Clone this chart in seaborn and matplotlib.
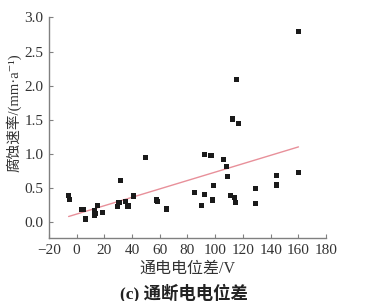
import matplotlib
matplotlib.use("Agg")
import matplotlib.pyplot as plt
import seaborn as sns
import pandas as pd

# data
potential_diff = [-5.8, -5.1, 3.6, 4.8, 6.5, 12.7, 13.4, 12.7, 14.9, 18.5,
                  29.6, 30.5, 31.7, 35.1, 37.0, 40.8, 49.8, 57.7, 58.6, 64.6,
                  85.3, 90.2, 92.5, 92.3, 96.9, 97.8, 98.8, 105.7, 108.0, 108.6,
                  110.8, 112.2, 114.2, 114.7, 115.4, 116.6, 129.1, 129.1,
                  144.0, 144.5, 160.0, 160.1]
corrosion_rate = [0.38, 0.33, 0.18, 0.18, 0.04, 0.157, 0.12, 0.09, 0.235, 0.14,
                  0.22, 0.285, 0.60, 0.294, 0.23, 0.378, 0.947, 0.32, 0.30, 0.187,
                  0.427, 0.24, 0.40, 0.99, 0.976, 0.32, 0.535, 0.91, 0.81, 0.66,
                  0.39, 1.51, 0.355, 0.285, 2.09, 1.44, 0.49, 0.27,
                  0.54, 0.677, 0.72, 2.79]
x_ticks = [-20, 0, 20, 40, 60, 80, 100, 120, 140, 160, 180]
y_ticks = [0.0, 0.5, 1.0, 1.5, 2.0, 2.5, 3.0]
x_label = "通电电位差/V"
y_label = "腐蚀速率/(mm·a\u207b\u00b9)"
caption = "(c) 通断电电位差"

df = pd.DataFrame({"x": potential_diff, "y": corrosion_rate})

sns.set_theme(style="ticks")
plt.rcParams["font.family"] = ["Liberation Serif", "Noto Sans CJK SC", "DejaVu Serif"]

fig = plt.figure(figsize=(3.68, 3.01), dpi=100)
ax = fig.add_axes([0.133, 0.208, 0.753, 0.734])

sns.regplot(data=df, x="x", y="y", scatter=False, ci=None, truncate=True,
            line_kws={"color": "#e8909a", "lw": 1.0}, ax=ax)
sns.scatterplot(data=df, x="x", y="y", marker="s", s=14, color="#1a1a1a",
                edgecolor="none", ax=ax, zorder=3)

ax.set_xlim(-20, 180)
ax.set_ylim(-0.245, 3.0)
ax.set_xticks(x_ticks)
ax.set_xticklabels([f"{v:d}".replace("-", "\u2212") for v in x_ticks])
ax.set_yticks(y_ticks)
ax.set_yticklabels([f"{v:.1f}" for v in y_ticks])
ax.tick_params(direction="in", length=3, width=0.8, color="#808080",
               labelsize=11, labelcolor="#333333", pad=4)
sns.despine(ax=ax)
for s in ("left", "bottom"):
    ax.spines[s].set_color("#808080")
    ax.spines[s].set_linewidth(1.0)

ax.set_xlabel(x_label, fontsize=11.5, color="#333333", labelpad=3)
ax.set_ylabel(y_label, fontsize=10.5, color="#333333")
ax.yaxis.set_label_coords(-0.100, 0.567)
fig.text(0.5, 0.028, caption, ha="center", va="center", fontsize=12.5,
         fontweight="bold", color="#222222")

fig.savefig("out.png", dpi=100)
